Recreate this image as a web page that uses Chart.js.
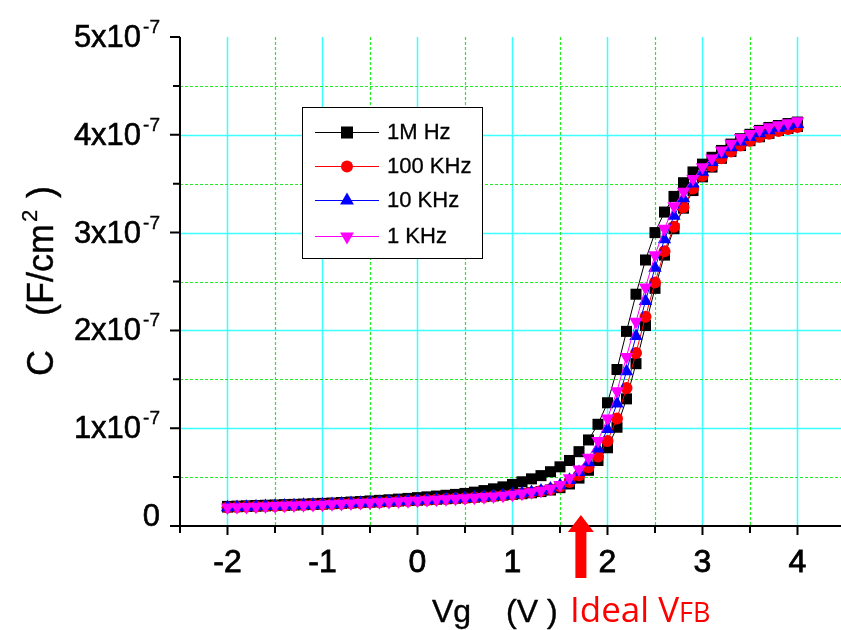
<!DOCTYPE html>
<html lang="en">
<head>
<meta charset="UTF-8" />
<title>C-V curves</title>
<script src="https://cdn.jsdelivr.net/npm/chart.js"></script>
<style>
  html, body { margin: 0; padding: 0; background: #fff; overflow: hidden; }
  #wrap { width: 841px; height: 630px; }
</style>
</head>
<body>
<div id="wrap"><canvas id="cv" width="841" height="630"></canvas></div>
<script>
// gate voltage Vg (V)
const vg = [-2.0,-1.9,-1.8,-1.7,-1.6,-1.5,-1.4,-1.3,-1.2,-1.1,-1.0,-0.9,-0.8,-0.7,-0.6,-0.5,-0.4,-0.3,-0.2,-0.1,
  0.0,0.1,0.2,0.3,0.4,0.5,0.6,0.7,0.8,0.9,1.0,1.1,1.2,1.3,1.4,1.5,1.6,1.7,1.8,1.9,
  2.0,2.1,2.2,2.3,2.4,2.5,2.6,2.7,2.8,2.9,3.0,3.1,3.2,3.3,3.4,3.5,3.6,3.7,3.8,3.9,4.0];

// capacitance, in units of 1e-7 F/cm2
// 1 MHz: forward sweep and return sweep (both listed in ascending Vg)
const c1MHzFwd = [0.200,0.203,0.206,0.209,0.212,0.215,0.218,0.221,0.224,0.227,0.231,0.235,0.240,0.245,0.250,0.256,0.262,0.268,0.275,0.282,
  0.290,0.298,0.306,0.314,0.323,0.333,0.346,0.362,0.380,0.400,0.425,0.452,0.482,0.515,0.555,0.605,0.670,0.760,0.880,1.040,
  1.260,1.600,1.990,2.370,2.720,3.000,3.210,3.370,3.510,3.620,3.700,3.770,3.840,3.905,3.960,4.005,4.045,4.075,4.095,4.115,4.130];
const c1MHzRev = [0.194,0.197,0.200,0.203,0.206,0.209,0.212,0.215,0.218,0.221,0.224,0.228,0.232,0.236,0.240,0.244,0.248,0.252,0.256,0.260,
  0.264,0.269,0.274,0.279,0.284,0.289,0.295,0.301,0.308,0.316,0.324,0.330,0.340,0.352,0.368,0.392,0.430,0.490,0.570,0.670,
  0.800,1.010,1.300,1.660,2.050,2.430,2.770,3.040,3.250,3.430,3.570,3.670,3.760,3.830,3.890,3.940,3.980,4.015,4.045,4.065,4.085];
const c100kHz = [0.190,0.193,0.196,0.199,0.202,0.205,0.208,0.211,0.214,0.217,0.220,0.224,0.228,0.232,0.236,0.240,0.244,0.248,0.252,0.256,
  0.260,0.265,0.270,0.275,0.280,0.285,0.291,0.297,0.304,0.312,0.322,0.332,0.343,0.357,0.375,0.405,0.450,0.520,0.600,0.710,
  0.870,1.100,1.410,1.770,2.140,2.490,2.810,3.060,3.260,3.450,3.580,3.680,3.760,3.830,3.890,3.940,3.980,4.010,4.040,4.060,4.080];
const c10kHz = [0.190,0.193,0.196,0.199,0.202,0.205,0.208,0.211,0.214,0.217,0.220,0.224,0.228,0.232,0.236,0.240,0.244,0.248,0.252,0.256,
  0.260,0.265,0.270,0.275,0.280,0.285,0.291,0.297,0.304,0.312,0.322,0.333,0.346,0.362,0.382,0.415,0.470,0.550,0.650,0.790,
  0.990,1.250,1.580,1.940,2.300,2.640,2.930,3.170,3.350,3.500,3.620,3.720,3.800,3.870,3.930,3.975,4.015,4.045,4.070,4.090,4.110];
const c1kHz = [0.190,0.193,0.196,0.199,0.202,0.205,0.208,0.211,0.214,0.217,0.220,0.224,0.228,0.232,0.236,0.240,0.244,0.248,0.252,0.256,
  0.260,0.265,0.270,0.275,0.280,0.285,0.291,0.297,0.304,0.312,0.322,0.333,0.346,0.362,0.382,0.420,0.490,0.580,0.700,0.870,
  1.100,1.380,1.730,2.090,2.440,2.770,3.040,3.270,3.420,3.550,3.670,3.760,3.840,3.910,3.970,4.010,4.050,4.080,4.100,4.120,4.140];

const seriesNames = ['1M Hz', '100 KHz', '10 KHz', '1 KHz'];
const xTicks = [-2, -1, 0, 1, 2, 3, 4];
const xMinor = [-2.5, -1.5, -0.5, 0.5, 1.5, 2.5, 3.5];
const yTicks = [0, 1, 2, 3, 4, 5];
const yMinor = [0.5, 1.5, 2.5, 3.5, 4.5];
const idealVfb = 1.72;

const pts = ys => vg.map((v, i) => ({ x: v, y: ys[i] }));

// black curve: forward sweep then back
const black = pts(c1MHzFwd).concat(pts(c1MHzRev).reverse());

const SANS = '"Liberation Sans", Arial, sans-serif';

function marker(ctx, style, x, y, r, color) {
  ctx.save();
  ctx.fillStyle = color;
  ctx.beginPath();
  if (style === 'rect') {
    const s = Math.SQRT1_2 * r;
    ctx.rect(x - s, y - s, 2 * s, 2 * s);
  } else if (style === 'circle') {
    ctx.arc(x, y, r, 0, Math.PI * 2);
  } else {
    let rad = style === 'down' ? Math.PI : 0;
    for (let k = 0; k < 3; k++) {
      const px = x + Math.sin(rad) * r, py = y - Math.cos(rad) * r;
      if (k === 0) ctx.moveTo(px, py); else ctx.lineTo(px, py);
      rad += Math.PI * 2 / 3;
    }
    ctx.closePath();
  }
  ctx.fill();
  ctx.restore();
}

// slightly heavier text, like the original export
function heavyText(ctx, txt, x, y, w) {
  ctx.fillText(txt, x, y);
  ctx.lineWidth = w;
  ctx.strokeStyle = ctx.fillStyle;
  ctx.strokeText(txt, x, y);
}

const gridPlugin = {
  id: 'grid',
  beforeDatasetsDraw(chart) {
    const { ctx, chartArea: a, scales: { x, y } } = chart;
    ctx.save();
    ctx.lineWidth = 1.5;
    ctx.strokeStyle = '#3dffff';
    xTicks.forEach(v => {
      const px = Math.round(x.getPixelForValue(v)) + 0.5;
      ctx.beginPath(); ctx.moveTo(px, a.top); ctx.lineTo(px, a.bottom); ctx.stroke();
    });
    yTicks.slice(1, -1).forEach(v => {
      const py = Math.round(y.getPixelForValue(v)) + 0.5;
      ctx.beginPath(); ctx.moveTo(a.left, py); ctx.lineTo(a.right, py); ctx.stroke();
    });
    ctx.strokeStyle = '#22ee22';
    ctx.lineWidth = 1.2;
    ctx.setLineDash([3, 2]);
    xMinor.slice(1).forEach(v => {
      const px = Math.round(x.getPixelForValue(v)) + 0.5;
      ctx.beginPath(); ctx.moveTo(px, a.top); ctx.lineTo(px, a.bottom); ctx.stroke();
    });
    yMinor.forEach(v => {
      const py = Math.round(y.getPixelForValue(v)) + 0.5;
      ctx.beginPath(); ctx.moveTo(a.left, py); ctx.lineTo(a.right, py); ctx.stroke();
    });
    ctx.restore();
  },
  afterDraw(chart) {
    const { ctx, chartArea: a, scales: { x, y } } = chart;
    ctx.save();
    // axes
    ctx.strokeStyle = '#000';
    ctx.lineWidth = 2;
    ctx.beginPath();
    ctx.moveTo(a.left, a.top); ctx.lineTo(a.left, a.bottom + 1);
    ctx.moveTo(a.left - 4, a.bottom); ctx.lineTo(a.right, a.bottom);
    ctx.stroke();
    // ticks
    ctx.beginPath();
    yTicks.forEach(v => { const py = y.getPixelForValue(v); ctx.moveTo(a.left - 10, py); ctx.lineTo(a.left, py); });
    yMinor.forEach(v => { const py = y.getPixelForValue(v); ctx.moveTo(a.left - 7, py); ctx.lineTo(a.left, py); });
    xTicks.forEach(v => { const px = x.getPixelForValue(v); ctx.moveTo(px, a.bottom); ctx.lineTo(px, a.bottom + 9); });
    xMinor.forEach(v => { const px = x.getPixelForValue(v); ctx.moveTo(px, a.bottom); ctx.lineTo(px, a.bottom + 7); });
    ctx.stroke();

    // y tick labels  "Nx10^-7"
    ctx.fillStyle = '#000';
    ctx.textBaseline = 'alphabetic';
    const rightX = a.left - 20;
    yTicks.forEach(v => {
      const py = y.getPixelForValue(v);
      if (v === 0) {
        ctx.font = '31px ' + SANS;
        ctx.textAlign = 'right';
        heavyText(ctx, '0', rightX, py, 0.6);
        return;
      }
      ctx.font = '19px ' + SANS;
      const ws = ctx.measureText('-7').width;
      ctx.textAlign = 'left';
      heavyText(ctx, '-7', rightX - ws, py - 4, 0.4);
      ctx.font = '31px ' + SANS;
      ctx.textAlign = 'right';
      heavyText(ctx, v + 'x10', rightX - ws - 2, py + 10, 0.6);
    });

    // x tick labels
    ctx.font = '32px ' + SANS;
    ctx.textAlign = 'center';
    xTicks.forEach(v => heavyText(ctx, String(v), x.getPixelForValue(v), a.bottom + 46, 0.8));

    // x title
    ctx.font = '32px ' + SANS;
    ctx.textAlign = 'left';
    heavyText(ctx, 'Vg', 432, 622, 0.4);
    heavyText(ctx, '(V )', 506, 622, 0.4);
    ctx.fillStyle = '#ff0000';
    ctx.font = '35px "Open Sans", sans-serif';
    ctx.fillText('Ideal V', 570, 622);
    const wI = ctx.measureText('Ideal V').width;
    ctx.font = '27px "Open Sans", sans-serif';
    ctx.fillText('FB', 570 + wI, 622);

    // y title, rotated
    ctx.save();
    ctx.fillStyle = '#000';
    ctx.translate(53, 376);
    ctx.rotate(-Math.PI / 2);
    ctx.font = '36px ' + SANS;
    heavyText(ctx, 'C', 0, 0, 0.4);
    heavyText(ctx, '(F/cm', 60, 0, 0.4);
    const wF = ctx.measureText('(F/cm').width;
    ctx.font = '22px ' + SANS;
    heavyText(ctx, '2', 60 + wF + 2, -16, 0.3);
    ctx.font = '36px ' + SANS;
    heavyText(ctx, ')', 60 + wF + 26, 0, 0.4);
    ctx.restore();

    // ideal VFB arrow
    const ax = x.getPixelForValue(idealVfb);
    ctx.fillStyle = '#ff0000';
    ctx.beginPath();
    ctx.moveTo(ax, a.bottom - 11);
    ctx.lineTo(ax + 13, a.bottom + 6);
    ctx.lineTo(ax + 5.5, a.bottom + 6);
    ctx.lineTo(ax + 5.5, a.bottom + 52);
    ctx.lineTo(ax - 5.5, a.bottom + 52);
    ctx.lineTo(ax - 5.5, a.bottom + 6);
    ctx.lineTo(ax - 13, a.bottom + 6);
    ctx.closePath();
    ctx.fill();

    // legend box
    const lx = 302, ly = 107, lw = 180, lh = 151;
    ctx.fillStyle = '#fff';
    ctx.fillRect(lx, ly, lw, lh);
    ctx.strokeStyle = '#000';
    ctx.lineWidth = 1;
    ctx.strokeRect(lx + 0.5, ly + 0.5, lw, lh);
    const rows = [132, 166, 200, 236];
    const cols = ['#000000', '#ff0000', '#0000ff', '#ff00ff'];
    const styles = ['rect', 'circle', 'up', 'down'];
    const rads = [8.5, 6, 8, 8];
    ctx.font = '22px ' + SANS;
    ctx.textAlign = 'left';
    ctx.textBaseline = 'middle';
    rows.forEach((ry, i) => {
      ctx.strokeStyle = cols[i];
      ctx.lineWidth = 1;
      ctx.beginPath(); ctx.moveTo(315, ry + 0.5); ctx.lineTo(379, ry + 0.5); ctx.stroke();
      marker(ctx, styles[i], 347, ry + 0.5, rads[i], cols[i]);
      ctx.fillStyle = '#000';
      heavyText(ctx, seriesNames[i], 387, ry + 1, 0.3);
    });
    ctx.restore();
  }
};

const ds = (label, data, color, style, r, rot, order) => ({
  label, data, borderColor: color, backgroundColor: color, borderWidth: 1,
  pointStyle: style, pointRadius: r, pointRotation: rot, pointBorderWidth: 0,
  pointBackgroundColor: color, showLine: true, tension: 0, order
});

new Chart(document.getElementById('cv'), {
  type: 'scatter',
  data: {
    datasets: [
      ds(seriesNames[0], black, '#000000', 'rect', 7.8, 0, 3),
      ds(seriesNames[1], pts(c100kHz), '#ff0000', 'circle', 6, 0, 2),
      ds(seriesNames[2], pts(c10kHz), '#0000ff', 'triangle', 7.7, 0, 1),
      ds(seriesNames[3], pts(c1kHz), '#ff00ff', 'triangle', 7.7, 180, 0)
    ]
  },
  options: {
    responsive: false,
    animation: false,
    devicePixelRatio: 1,
    layout: { autoPadding: false, padding: { top: 37, left: 0, right: 0, bottom: 0 } },
    plugins: { legend: { display: false }, tooltip: { enabled: false } },
    scales: {
      x: {
        type: 'linear', min: -2.5, max: 4.458,
        grid: { display: false }, border: { display: false }, ticks: { display: false },
        afterFit: s => { s.height = 104; }
      },
      y: {
        type: 'linear', min: 0, max: 5,
        grid: { display: false }, border: { display: false }, ticks: { display: false },
        afterFit: s => { s.width = 180; }
      }
    }
  },
  plugins: [gridPlugin]
});
</script>
</body>
</html>
